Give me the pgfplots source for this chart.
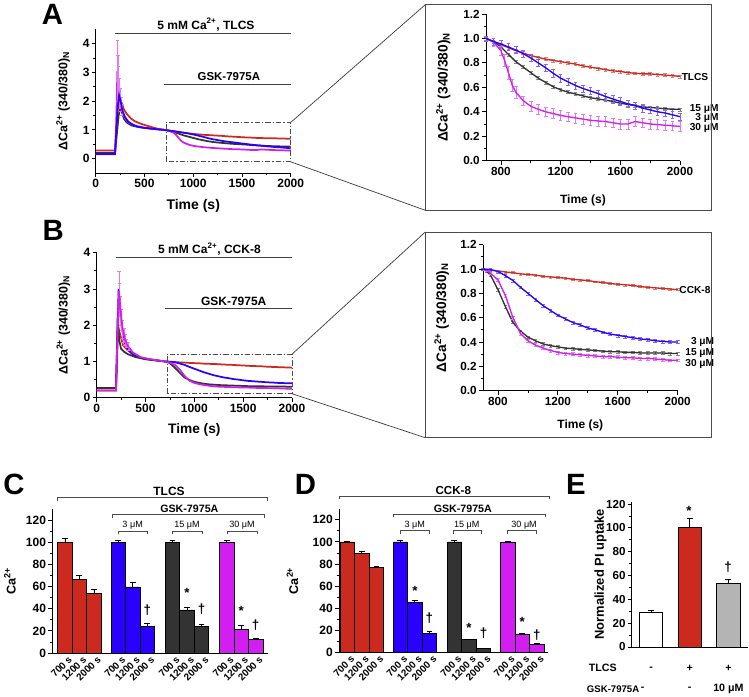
\documentclass[border=0pt]{standalone}
\usepackage{fontspec}
\setmainfont{Liberation Sans}
\usepackage{pgfplots}
\usepackage{pgfplotstable}
\pgfplotsset{compat=1.18}

\definecolor{cred}{HTML}{CC2A1E}
\definecolor{cblue}{HTML}{2A00FF}
\definecolor{cblack}{HTML}{333333}
\definecolor{cmag}{HTML}{D21EF0}
\definecolor{cgray}{HTML}{B4B4B4}

\pgfplotsset{
 base/.style={scale only axis, axis lines=left, axis line style={-, line width=0.7pt, black},
   tick align=outside, major tick length=3pt, minor tick length=1.8pt,
   tick style={black, line width=0.6pt}, clip=false, enlargelimits=false,
   /pgf/number format/assume math mode=true, /pgf/number format/1000 sep={},
   tick label style={font=\fontsize{9}{10}\selectfont, inner sep=1.5pt}},
 bstyle/.style={ybar, bar shift=0pt, draw=black, line width=0.5pt,
   /pgfplots/error bars/y dir=plus, /pgfplots/error bars/y explicit,
   /pgfplots/error bars/error bar style={black, line width=0.6pt},
   /pgfplots/error bars/error mark options={rotate=90, mark size=2.2pt, black, line width=0.6pt}},
}
\tikzset{
 brk/.style={line width=0.5pt, black!70},
 ddash/.style={line width=0.6pt, black!70, dash pattern=on 4pt off 1.5pt on 1pt off 1.5pt},
}

\newcommand{\insplot}[2]{%
 \addplot[#1!60, line width=0.3pt, forget plot,
   /pgfplots/error bars/y dir=both, /pgfplots/error bars/y explicit,
   /pgfplots/error bars/error bar style={#1!60, line width=0.4pt},
   /pgfplots/error bars/error mark options={rotate=90, mark size=1.4pt, #1!60, line width=0.4pt}]
   table[x=t,y=y,y error=e]{#2};
 \addplot[#1, line width=1pt] table[x=t,y=y]{#2};
}

% ---------- Panel A inset data ----------
\pgfplotstableread{
t y e
700 1.000 0.012
750 0.975 0.012
800 0.950 0.012
850 0.925 0.012
900 0.900 0.012
950 0.880 0.012
1000 0.860 0.012
1050 0.845 0.012
1100 0.830 0.012
1150 0.820 0.012
1200 0.810 0.012
1250 0.800 0.012
1300 0.790 0.012
1350 0.775 0.012
1400 0.765 0.012
1450 0.755 0.012
1500 0.745 0.012
1550 0.735 0.012
1600 0.730 0.012
1650 0.720 0.012
1700 0.715 0.012
1750 0.710 0.012
1800 0.710 0.012
1850 0.705 0.012
1900 0.700 0.012
1950 0.695 0.012
2000 0.690 0.012
}\AinsR
\pgfplotstableread{
t y e
700 1.000 0.02
750 0.975 0.03
800 0.955 0.03
850 0.930 0.03
900 0.905 0.03
950 0.875 0.03
1000 0.840 0.03
1050 0.800 0.03
1100 0.760 0.03
1150 0.715 0.03
1200 0.675 0.03
1250 0.645 0.03
1300 0.615 0.03
1350 0.590 0.03
1400 0.570 0.03
1450 0.550 0.03
1500 0.525 0.03
1550 0.505 0.03
1600 0.485 0.03
1650 0.465 0.03
1700 0.450 0.03
1750 0.430 0.03
1800 0.415 0.03
1850 0.400 0.03
1900 0.390 0.03
1950 0.375 0.03
2000 0.360 0.03
}\AinsB
\pgfplotstableread{
t y e
700 1.000 0.012
750 0.975 0.012
800 0.930 0.012
850 0.870 0.012
900 0.810 0.012
950 0.765 0.012
1000 0.720 0.012
1050 0.675 0.012
1100 0.640 0.012
1150 0.605 0.012
1200 0.580 0.012
1250 0.560 0.012
1300 0.545 0.012
1350 0.530 0.012
1400 0.515 0.012
1450 0.505 0.012
1500 0.495 0.012
1550 0.485 0.012
1600 0.470 0.012
1650 0.460 0.012
1700 0.450 0.012
1750 0.440 0.012
1800 0.435 0.012
1850 0.430 0.012
1900 0.425 0.012
1950 0.420 0.012
2000 0.420 0.012
}\AinsK
\pgfplotstableread{
t y e
700 1.000 0.02
750 0.970 0.03
800 0.900 0.04
825 0.820 0.05
850 0.720 0.05
875 0.620 0.05
900 0.560 0.05
950 0.490 0.04
1000 0.445 0.04
1050 0.420 0.04
1100 0.400 0.04
1150 0.385 0.04
1200 0.370 0.04
1250 0.360 0.04
1300 0.350 0.04
1350 0.340 0.04
1400 0.330 0.04
1450 0.325 0.04
1500 0.320 0.04
1550 0.310 0.04
1600 0.300 0.04
1650 0.300 0.04
1700 0.320 0.04
1750 0.310 0.04
1800 0.300 0.04
1850 0.295 0.04
1900 0.290 0.04
1950 0.285 0.04
2000 0.280 0.04
}\AinsM
% ---------- Panel B inset data ----------
\pgfplotstableread{
t y e
700 1.000 0.008
750 0.990 0.008
800 0.985 0.008
850 0.975 0.008
900 0.970 0.008
950 0.960 0.008
1000 0.955 0.008
1050 0.950 0.008
1100 0.940 0.008
1150 0.935 0.008
1200 0.930 0.008
1250 0.925 0.008
1300 0.915 0.008
1350 0.910 0.008
1400 0.905 0.008
1450 0.895 0.008
1500 0.890 0.008
1550 0.880 0.008
1600 0.875 0.008
1650 0.870 0.008
1700 0.865 0.008
1750 0.855 0.008
1800 0.850 0.008
1850 0.845 0.008
1900 0.840 0.008
1950 0.835 0.008
2000 0.830 0.008
}\BinsR
\pgfplotstableread{
t y e
700 1.000 0.008
750 0.995 0.010
800 0.980 0.012
850 0.945 0.012
900 0.905 0.012
950 0.850 0.012
1000 0.800 0.012
1050 0.750 0.012
1100 0.700 0.012
1150 0.660 0.012
1200 0.620 0.012
1250 0.590 0.012
1300 0.560 0.012
1350 0.540 0.012
1400 0.515 0.012
1450 0.500 0.012
1500 0.480 0.012
1550 0.465 0.012
1600 0.455 0.012
1650 0.445 0.012
1700 0.435 0.012
1750 0.425 0.012
1800 0.420 0.012
1850 0.410 0.012
1900 0.405 0.012
1950 0.400 0.012
2000 0.400 0.012
}\BinsB
\pgfplotstableread{
t y e
700 1.000 0.008
725 0.980 0.010
750 0.950 0.010
800 0.830 0.010
850 0.690 0.010
900 0.560 0.010
950 0.490 0.010
1000 0.440 0.010
1050 0.410 0.010
1100 0.385 0.010
1150 0.370 0.010
1200 0.360 0.010
1250 0.350 0.010
1300 0.345 0.010
1350 0.340 0.010
1400 0.335 0.010
1450 0.330 0.010
1500 0.325 0.010
1550 0.320 0.010
1600 0.320 0.010
1650 0.315 0.010
1700 0.315 0.010
1750 0.310 0.010
1800 0.310 0.010
1850 0.310 0.010
1900 0.310 0.010
1950 0.305 0.010
2000 0.305 0.010
}\BinsK
\pgfplotstableread{
t y e
700 1.000 0.008
725 0.990 0.010
750 0.965 0.012
800 0.910 0.012
850 0.780 0.012
900 0.600 0.012
950 0.470 0.012
1000 0.410 0.012
1050 0.375 0.012
1100 0.350 0.012
1150 0.330 0.012
1200 0.315 0.012
1250 0.305 0.012
1300 0.300 0.012
1350 0.295 0.012
1400 0.290 0.012
1450 0.285 0.012
1500 0.280 0.012
1550 0.280 0.012
1600 0.275 0.012
1650 0.270 0.012
1700 0.270 0.012
1750 0.265 0.012
1800 0.265 0.012
1850 0.260 0.012
1900 0.255 0.012
1950 0.250 0.012
2000 0.250 0.012
}\BinsM

\begin{document}
\bfseries
\begin{tikzpicture}
\useasboundingbox (0,0) rectangle (561.75pt,522pt);

%================ Panel A left =================
\begin{axis}[base, at={(71.8pt,392.25pt)}, anchor=south west, width=146.25pt, height=107.8pt,
  xmin=0, xmax=2000, ymin=-0.5, ymax=4.5,
  xtick={0,500,1000,1500,2000}, minor x tick num=1,
  ytick={0,1,2,3,4}, minor y tick num=1,
  xlabel={Time (s)}, ylabel={ΔCa\textsuperscript{2+} (340/380)\textsubscript{N}},
  xlabel style={at={(axis description cs:0.5,0)}, anchor=center, yshift=-25pt, font=\fontsize{10.5}{12}\selectfont},
  ylabel style={at={(axis description cs:0,0.5)}, anchor=center, yshift=24.5pt, font=\fontsize{9.3}{11}\selectfont}]
 \addplot[cblack, line width=1.3pt] coordinates {(0,0.2)(198,0.2)(215,0.8)(235,1.5)(255,1.8)(270,1.6)(290,1.38)(320,1.25)(370,1.15)(450,1.09)(550,1.05)(700,1.0)};
 \addplot[cblack, line width=1.3pt] table[x=t,y=y]{\AinsK};
 \addplot[cred, line width=1.3pt] coordinates {(0,0.28)(198,0.28)(210,1.0)(225,1.7)(245,2.0)(265,1.95)(290,1.7)(320,1.55)(360,1.4)(400,1.3)(450,1.23)(500,1.17)(550,1.12)(600,1.07)(650,1.03)(700,1.0)};
 \addplot[cred, line width=1.3pt] table[x=t,y=y]{\AinsR};
 \addplot[cmag, line width=1.3pt] coordinates {(0,0.15)(198,0.15)(210,1.2)(222,3.05)(235,2.6)(250,2.1)(270,1.7)(300,1.4)(340,1.25)(400,1.15)(500,1.07)(600,1.03)(700,1.0)};
 \addplot[draw=none, forget plot, /pgfplots/error bars/y dir=both, /pgfplots/error bars/y explicit,
   /pgfplots/error bars/error bar style={draw=cmag!60, line width=0.5pt},
   /pgfplots/error bars/error mark options={rotate=90, mark size=1.2pt, draw=cmag!60}]
   coordinates {(222,3.05) +- (0,1.05) (229,2.8) +- (0,0.8) (235,2.6) +- (0,0.6) (242,2.35) +- (0,0.45) (250,2.1) +- (0,0.35) (260,1.9) +- (0,0.25) (270,1.7) +- (0,0.2)};
 \addplot[cmag, line width=1.3pt] table[x=t,y=y]{\AinsM};
 \addplot[cblue, line width=1.3pt] coordinates {(0,0.16)(198,0.16)(210,0.9)(225,1.8)(240,2.2)(255,2.0)(275,1.65)(300,1.45)(330,1.3)(370,1.2)(420,1.12)(500,1.07)(600,1.03)(700,1.0)};
 \addplot[cblue, line width=1.3pt] table[x=t,y=y]{\AinsB};
 \draw[line width=0.7pt, black!75] (axis cs:200,4.36) -- (axis cs:2000,4.36);
 \node[font=\fontsize{9}{10}\selectfont] at (axis cs:1130,4.66) {5 mM Ca\textsuperscript{2+}, TLCS};
 \draw[line width=0.7pt, black!75] (axis cs:700,2.59) -- (axis cs:2000,2.59);
 \node[font=\fontsize{8.6}{10}\selectfont] at (axis cs:1365,2.86) {GSK-7975A};
 \draw[ddash] (axis cs:720,-0.11) rectangle (axis cs:2000,1.26);
 \coordinate (A1) at (axis cs:2000,1.26);
 \coordinate (A2) at (axis cs:2000,-0.11);
\end{axis}

%================ Panel A inset =================
\begin{axis}[base, at={(364.5pt,401.5pt)}, anchor=south west, width=145.5pt, height=110pt,
  xmin=700, xmax=2000, ymin=0, ymax=1.2,
  xtick={800,1200,1600,2000}, minor x tick num=1,
  ytick={0,0.2,...,1.2}, minor y tick num=1,
  yticklabel style={/pgf/number format/.cd, fixed, fixed zerofill, precision=1},
  tick label style={font=\fontsize{8.8}{10}\selectfont},
  xlabel={Time (s)}, ylabel={ΔCa\textsuperscript{2+} (340/380)\textsubscript{N}},
  xlabel style={at={(axis description cs:0.5,0)}, anchor=center, yshift=-29.5pt, font=\fontsize{9}{11}\selectfont},
  ylabel style={at={(axis description cs:0,0.5)}, anchor=center, yshift=32pt, font=\fontsize{10.3}{12}\selectfont}]
 \insplot{cred}{\AinsR}
 \insplot{cblack}{\AinsK}
 \insplot{cmag}{\AinsM}
 \insplot{cblue}{\AinsB}
 \begin{scope}[font=\fontsize{7.6}{8}\selectfont, inner sep=0pt]
 \node[anchor=west] at (axis cs:2010,0.687) {TLCS};
 \node[anchor=east] at (axis cs:2260,0.425) {15 μM};
 \node[anchor=east] at (axis cs:2260,0.35) {3 μM};
 \node[anchor=east] at (axis cs:2260,0.27) {30 μM};
 \end{scope}
\end{axis}

%================ Panel B left =================
\begin{axis}[base, at={(72.5pt,223.7pt)}, anchor=south west, width=146.5pt, height=108.75pt,
  xmin=0, xmax=2000, ymin=0, ymax=4,
  xtick={0,500,1000,1500,2000}, minor x tick num=1,
  ytick={0,1,2,3,4}, minor y tick num=1,
  xlabel={Time (s)}, ylabel={ΔCa\textsuperscript{2+} (340/380)\textsubscript{N}},
  xlabel style={at={(axis description cs:0.5,0)}, anchor=center, yshift=-24.2pt, font=\fontsize{10.3}{12}\selectfont},
  ylabel style={at={(axis description cs:0,0.5)}, anchor=center, yshift=25pt, font=\fontsize{9.3}{11}\selectfont}]
 \addplot[cred, line width=1.3pt] coordinates {(0,0.2)(198,0.2)(208,1.0)(220,1.95)(240,1.75)(270,1.45)(310,1.33)(360,1.22)(420,1.13)(500,1.08)(600,1.04)(700,1.0)};
 \addplot[cred, line width=1.3pt] table[x=t,y=y]{\BinsR};
 \addplot[cblue, line width=1.3pt] coordinates {(0,0.27)(198,0.27)(210,1.5)(225,3.0)(240,2.4)(260,1.9)(290,1.5)(330,1.3)(380,1.18)(450,1.1)(550,1.05)(700,1.0)};
 \addplot[cblue, line width=1.3pt] table[x=t,y=y]{\BinsB};
 \addplot[cblack, line width=1.3pt] coordinates {(0,0.27)(198,0.27)(207,1.2)(215,2.25)(230,1.6)(250,1.35)(280,1.27)(320,1.2)(400,1.12)(500,1.06)(700,1.0)};
 \addplot[cblack, line width=1.3pt] table[x=t,y=y]{\BinsK};
 \addplot[draw=none, forget plot, /pgfplots/error bars/y dir=both, /pgfplots/error bars/y explicit,
   /pgfplots/error bars/error bar style={draw=cmag!60, line width=0.5pt},
   /pgfplots/error bars/error mark options={rotate=90, mark size=1.2pt, draw=cmag!60}]
   coordinates {(228,2.95) +- (0,0.55) (236,2.7) +- (0,0.45) (245,2.4) +- (0,0.4) (255,2.15) +- (0,0.3) (265,1.9) +- (0,0.25) (280,1.72) +- (0,0.2) (290,1.6) +- (0,0.15) (305,1.5) +- (0,0.12) (320,1.42) +- (0,0.1)};
 \addplot[cmag, line width=1.3pt] coordinates {(0,0.2)(198,0.2)(210,1.4)(228,2.95)(245,2.4)(265,1.9)(290,1.6)(320,1.42)(370,1.25)(450,1.12)(550,1.06)(700,1.0)};
 \addplot[cmag, line width=1.3pt] table[x=t,y=y]{\BinsM};
 \draw[line width=0.7pt, black!75] (axis cs:200,3.87) -- (axis cs:2000,3.87);
 \node[font=\fontsize{9}{10}\selectfont] at (axis cs:1155,4.1) {5 mM Ca\textsuperscript{2+}, CCK-8};
 \draw[line width=0.7pt, black!75] (axis cs:700,2.46) -- (axis cs:2000,2.46);
 \node[font=\fontsize{9}{10}\selectfont] at (axis cs:1403,2.67) {GSK-7975A};
 \draw[ddash] (axis cs:720,0.11) rectangle (axis cs:2000,1.2);
 \coordinate (B1) at (axis cs:2000,1.2);
 \coordinate (B2) at (axis cs:2000,0.11);
\end{axis}

%================ Panel B inset =================
\begin{axis}[base, at={(362.25pt,229pt)}, anchor=south west, width=146pt, height=109.5pt,
  xmin=700, xmax=2000, ymin=0, ymax=1.2,
  xtick={800,1200,1600,2000}, minor x tick num=1,
  ytick={0,0.2,...,1.2}, minor y tick num=1,
  yticklabel style={/pgf/number format/.cd, fixed, fixed zerofill, precision=1},
  tick label style={font=\fontsize{8.8}{10}\selectfont},
  xlabel={Time (s)}, ylabel={ΔCa\textsuperscript{2+} (340/380)\textsubscript{N}},
  xlabel style={at={(axis description cs:0.5,0)}, anchor=center, yshift=-26.2pt, font=\fontsize{9}{11}\selectfont},
  ylabel style={at={(axis description cs:0,0.5)}, anchor=center, yshift=31pt, font=\fontsize{10.3}{12}\selectfont}]
 \insplot{cred}{\BinsR}
 \insplot{cblack}{\BinsK}
 \insplot{cmag}{\BinsM}
 \insplot{cblue}{\BinsB}
 \begin{scope}[font=\fontsize{7.6}{8}\selectfont, inner sep=0pt]
 \node[anchor=west] at (axis cs:2010,0.827) {CCK-8};
 \node[anchor=east] at (axis cs:2245,0.40) {3 μM};
 \node[anchor=east] at (axis cs:2245,0.31) {15 μM};
 \node[anchor=east] at (axis cs:2245,0.22) {30 μM};
 \end{scope}
\end{axis}

%================ Panel C =================
\begin{axis}[base, at={(39.2pt,32.25pt)}, anchor=south west, width=161.8pt, height=107.8pt,
  xmin=-0.872, xmax=14.0, ymin=0, ymax=130,
  ytick={0,20,...,120}, minor y tick num=1,
  xtick={0,1,2,3.68,4.68,5.68,7.42,8.42,9.42,11.15,12.15,13.15},
  xticklabels={700 s,1200 s,2000 s,700 s,1200 s,2000 s,700 s,1200 s,2000 s,700 s,1200 s,2000 s},
  x tick label style={rotate=45, anchor=north east, font=\fontsize{7.4}{8}\selectfont, inner sep=0.5pt, xshift=3pt},
  x tick style={draw=none},
  ylabel={Ca\textsuperscript{2+}},
  ylabel style={at={(axis description cs:0,0.5)}, anchor=center, yshift=31.7pt, font=\fontsize{9.5}{11}\selectfont}]
 \addplot[fill=cred, bstyle, bar width=1] coordinates {(0,100) +- (0,4) (1,66.3) +- (0,3.6) (2,53.7) +- (0,3.6)};
 \addplot[fill=cblue, bstyle, bar width=1] coordinates {(3.68,100) +- (0,1.5) (4.68,59.7) +- (0,4.2) (5.68,24.3) +- (0,2.4)};
 \addplot[fill=cblack, bstyle, bar width=1] coordinates {(7.42,100) +- (0,1.5) (8.42,39) +- (0,2.4) (9.42,24.3) +- (0,1.5)};
 \addplot[fill=cmag, bstyle, bar width=1] coordinates {(11.15,100) +- (0,2.2) (12.15,21.6) +- (0,3) (13.15,12) +- (0,1.2)};
 \draw[brk] (axis cs:-0.5,137.5) |- (axis cs:13.96,140.5) -- (axis cs:13.96,137.5);
 \node[font=\fontsize{9}{10}\selectfont, anchor=south, inner sep=1pt] at (axis cs:7.18,140.5) {TLCS};
 \draw[brk] (axis cs:3.27,122.4) |- (axis cs:13.73,125.4) -- (axis cs:13.73,122.4);
 \node[font=\fontsize{8}{9}\selectfont, anchor=south, inner sep=1pt] at (axis cs:8.58,125.4) {GSK-7975A};
 \draw[brk] (axis cs:3.68,107.4) |- (axis cs:5.66,110.3) -- (axis cs:5.66,107.4);
 \draw[brk] (axis cs:7.40,107.4) |- (axis cs:9.45,110.3) -- (axis cs:9.45,107.4);
 \draw[brk] (axis cs:11.22,107.4) |- (axis cs:13.29,110.3) -- (axis cs:13.29,107.4);
 \begin{scope}[font=\mdseries\fontsize{6.8}{8}\selectfont, anchor=south, inner sep=1pt]
 \node at (axis cs:4.67,110.3) {3 μM};
 \node at (axis cs:8.42,110.3) {15 μM};
 \node at (axis cs:12.21,110.3) {30 μM};
 \end{scope}
 \begin{scope}[font=\fontsize{10}{11}\selectfont]
 \node at (axis cs:5.68,39) {†};
 \node at (axis cs:8.42,54) {*};
 \node at (axis cs:9.42,39.5) {†};
 \node at (axis cs:12.15,38) {*};
 \node at (axis cs:13.15,25.5) {†};
 \end{scope}
\end{axis}

%================ Panel D =================
\begin{axis}[base, at={(254.25pt,32.5pt)}, anchor=south west, width=156.75pt, height=108pt,
  xmin=-0.57, xmax=13.78, ymin=0, ymax=130,
  ytick={0,20,...,120}, minor y tick num=1,
  xtick={0,1,2,3.64,4.64,5.64,7.35,8.35,9.35,11.01,12.01,13.01},
  xticklabels={700 s,1200 s,2000 s,700 s,1200 s,2000 s,700 s,1200 s,2000 s,700 s,1200 s,2000 s},
  x tick label style={rotate=45, anchor=north east, font=\fontsize{7.4}{8}\selectfont, inner sep=0.5pt, xshift=3pt},
  x tick style={draw=none},
  ylabel={Ca\textsuperscript{2+}},
  ylabel style={at={(axis description cs:0,0.5)}, anchor=center, yshift=34.9pt, font=\fontsize{9.5}{11}\selectfont}]
 \addplot[fill=cred, bstyle, bar width=1] coordinates {(0,100) +- (0,0.7) (1,89.5) +- (0,1.6) (2,76.9) +- (0,1.2)};
 \addplot[fill=cblue, bstyle, bar width=1] coordinates {(3.64,100) +- (0,1.5) (4.64,45) +- (0,2.4) (5.64,17.7) +- (0,1.5)};
 \addplot[fill=cblack, bstyle, bar width=1] coordinates {(7.35,100) +- (0,1.5) (8.35,11.7) +- (0,0.7) (9.35,3.6) +- (0,0.5)};
 \addplot[fill=cmag, bstyle, bar width=1] coordinates {(11.01,100) +- (0,0.7) (12.01,16.2) +- (0,1) (13.01,7.8) +- (0,0.8)};
 \draw[brk] (axis cs:-0.52,138.4) |- (axis cs:13.85,141.4) -- (axis cs:13.85,138.4);
 \node[font=\fontsize{8.7}{10}\selectfont, anchor=south, inner sep=1pt] at (axis cs:7.28,141.4) {CCK-8};
 \draw[brk] (axis cs:3.14,122.1) |- (axis cs:13.58,125.1) -- (axis cs:13.58,122.1);
 \node[font=\fontsize{8}{9}\selectfont, anchor=south, inner sep=1pt] at (axis cs:7.93,125.1) {GSK-7975A};
 \draw[brk] (axis cs:3.62,107.4) |- (axis cs:5.61,110.3) -- (axis cs:5.61,107.4);
 \draw[brk] (axis cs:7.31,107.4) |- (axis cs:9.2,110.3) -- (axis cs:9.2,107.4);
 \draw[brk] (axis cs:10.99,107.4) |- (axis cs:13.0,110.3) -- (axis cs:13.0,107.4);
 \begin{scope}[font=\mdseries\fontsize{6.8}{8}\selectfont, anchor=south, inner sep=1pt]
 \node at (axis cs:4.63,110.3) {3 μM};
 \node at (axis cs:8.2,110.3) {15 μM};
 \node at (axis cs:12.14,110.3) {30 μM};
 \end{scope}
 \begin{scope}[font=\fontsize{10}{11}\selectfont]
 \node at (axis cs:4.64,56) {*};
 \node at (axis cs:5.64,31.5) {†};
 \node at (axis cs:8.35,22.5) {*};
 \node at (axis cs:9.35,17.5) {†};
 \node at (axis cs:12.01,27.5) {*};
 \node at (axis cs:13.01,16) {†};
 \end{scope}
\end{axis}

%================ Panel E =================
\begin{axis}[base, at={(473.8pt,36.75pt)}, anchor=south west, width=87pt, height=109pt,
  xmin=0.5, xmax=3.5, ymin=0, ymax=122,
  ytick={0,20,...,120}, minor y tick num=1, xtick=\empty,
  tick label style={font=\fontsize{8.7}{10}\selectfont},
  ylabel={Normalized PI uptake},
  ylabel style={at={(axis description cs:0,0.5)}, anchor=center, yshift=23.5pt, font=\fontsize{9.7}{11}\selectfont}]
 \addplot[fill=white, bstyle, bar width=0.6] coordinates {(1,29) +- (0,2)};
 \addplot[fill=cred, bstyle, bar width=0.6] coordinates {(2,100.4) +- (0,7.5)};
 \addplot[fill=cgray, bstyle, bar width=0.6] coordinates {(3,53.4) +- (0,3.6)};
 \begin{scope}[font=\fontsize{10}{11}\selectfont]
 \node at (axis cs:1.98,114.5) {*};
 \node at (axis cs:2.99,67) {†};
 \end{scope}
 \begin{scope}[font=\fontsize{8}{9}\selectfont]
 \node[anchor=west] at (axis cs:-0.73,-17.9) {TLCS};
 \node at (axis cs:1,-17.9) {-};
 \node at (axis cs:2,-17.9) {+};
 \node at (axis cs:3,-17.9) {+};
 \node[anchor=west, font=\fontsize{7.2}{8}\selectfont] at (axis cs:-0.78,-35.5) {GSK-7975A};
 \node at (axis cs:0.78,-35.5) {-};
 \node at (axis cs:2,-35.5) {-};
 \node at (axis cs:3,-35.5) {10 μM};
 \end{scope}
\end{axis}

%================ frames, connectors, letters (pixel coordinates) =================
\begin{scope}[x=0.75pt, y=-0.75pt, yshift=522pt]
 \draw[line width=0.7pt, black!70] (425.3,4.7) rectangle (711.7,210.3);
 \draw[line width=0.7pt, black!70] (425.3,232) rectangle (711.7,437.7);
 \draw[line width=0.5pt, black!80] (A1) -- (425.3,4.7);
 \draw[line width=0.5pt, black!80] (A2) -- (425.3,210.3);
 \draw[line width=0.5pt, black!80] (B1) -- (425.3,232);
 \draw[line width=0.5pt, black!80] (B2) -- (425.3,437.7);
 \begin{scope}[font=\fontsize{22}{22}\selectfont]
 \node at (52.5,14) {A};
 \node at (53.3,230.5) {B};
 \node at (14,484) {C};
 \node at (305.5,484) {D};
 \node at (576,484) {E};
 \end{scope}
\end{scope}
\end{tikzpicture}
\end{document}
